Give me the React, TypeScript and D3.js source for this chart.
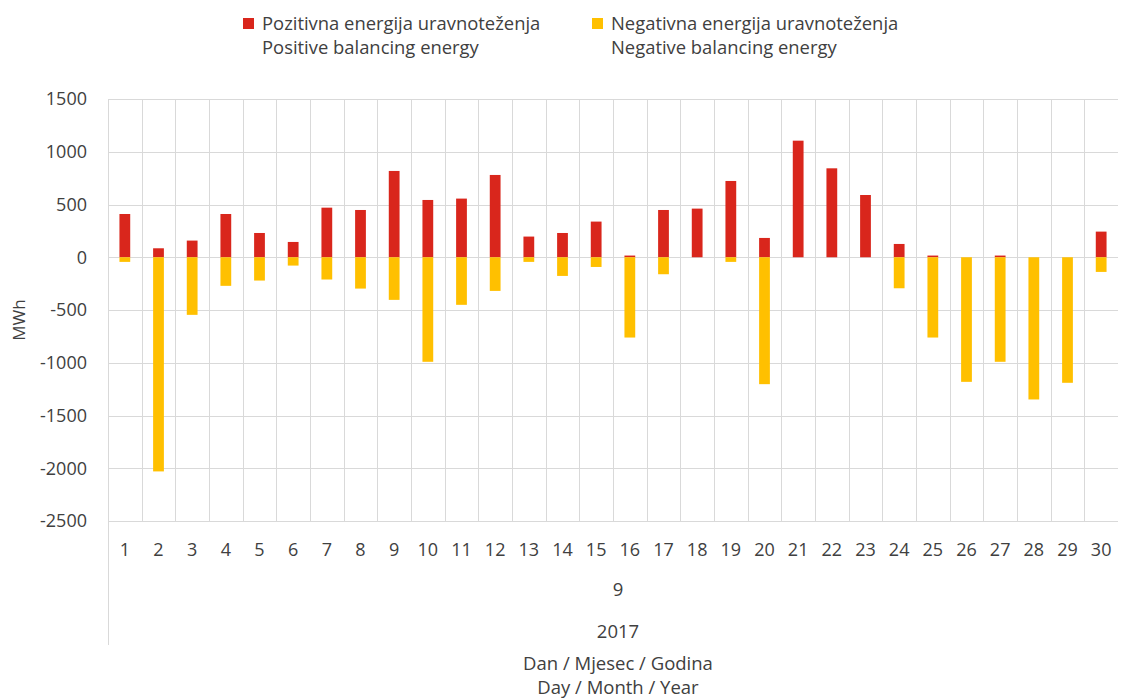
import { useRef, useEffect } from 'react';
import * as d3 from 'd3';

// Days of September 2017
const days = d3.range(1, 31).map(String);

// Pozitivna energija uravnoteženja (MWh)
const positive = [
  410, 85, 158, 410, 230, 145, 470, 448, 818, 543,
  556, 780, 196, 230, 338, 16, 448, 461, 723, 183,
  1105, 843, 590, 126, 16, 0, 16, 0, 0, 243,
];

// Negativna energija uravnoteženja (MWh)
const negative = [
  -44, -2030, -546, -271, -221, -79, -211, -297, -404, -991,
  -451, -319, -44, -177, -92, -761, -161, 0, -44, -1203,
  0, 0, 0, -294, -761, -1181, -991, -1348, -1190, -139,
];

const yTicks = [1500, 1000, 500, 0, -500, -1000, -1500, -2000, -2500];

const series = [
  { name: ['Pozitivna energija uravnoteženja', 'Positive balancing energy'], values: positive, color: '#D9261C' },
  { name: ['Negativna energija uravnoteženja', 'Negative balancing energy'], values: negative, color: '#FFC000' },
];

const FONT = '"Open Sans", Lato, sans-serif';
const TEXT = '#404040';

export default function App() {
  const svgRef = useRef<SVGSVGElement>(null);

  useEffect(() => {
    if (!svgRef.current) return;
    const svg = d3.select(svgRef.current);
    svg.selectAll('*').remove();

    const width = 1121;
    const height = 698;
    const margin = { top: 99, right: 3, bottom: 177, left: 108 };

    const x = d3.scaleBand()
      .domain(days)
      .range([margin.left, width - margin.right])
      .padding(0);

    const y = d3.scaleLinear()
      .domain([-2500, 1500])
      .range([height - margin.bottom, margin.top]);

    // Horizontal gridlines
    svg.append('g')
      .selectAll('line')
      .data(yTicks)
      .join('line')
      .attr('x1', margin.left)
      .attr('x2', width - margin.right)
      .attr('y1', d => Math.round(y(d)) + 0.5)
      .attr('y2', d => Math.round(y(d)) + 0.5)
      .attr('stroke', '#D9D9D9')
      .attr('stroke-width', 1);

    // Vertical gridlines between categories
    svg.append('g')
      .selectAll('line')
      .data(days)
      .join('line')
      .attr('x1', d => Math.round(x(d)!) + 0.5)
      .attr('x2', d => Math.round(x(d)!) + 0.5)
      .attr('y1', margin.top)
      .attr('y2', d => d === '1' ? 645 : y(-2500))
      .attr('stroke', '#D9D9D9')
      .attr('stroke-width', 1);

    // Bars (100% overlap)
    const bw = x.bandwidth() * 0.32;
    series.forEach(s => {
      svg.append('g')
        .selectAll('rect')
        .data(s.values.map((v, i) => ({ day: days[i], v })))
        .join('rect')
        .attr('x', d => x(d.day)! + (x.bandwidth() - bw) / 2)
        .attr('width', bw)
        .attr('y', d => Math.min(y(d.v), y(0)))
        .attr('height', d => Math.abs(y(d.v) - y(0)))
        .attr('fill', s.color);
    });

    // Y tick labels
    svg.append('g')
      .selectAll('text')
      .data(yTicks)
      .join('text')
      .attr('x', 87)
      .attr('y', d => y(d))
      .attr('dy', '0.35em')
      .attr('text-anchor', 'end')
      .attr('font-size', 18)
      .attr('font-family', FONT)
      .attr('fill', TEXT)
      .text(d => d);

    // Y title
    svg.append('text')
      .attr('transform', `translate(25,${(margin.top + height - margin.bottom) / 2 + 10}) rotate(-90)`)
      .attr('text-anchor', 'middle')
      .attr('font-size', 17)
      .attr('font-family', FONT)
      .attr('fill', TEXT)
      .text('MWh');

    // X tick labels (day)
    svg.append('g')
      .selectAll('text')
      .data(days)
      .join('text')
      .attr('x', d => x(d)! + x.bandwidth() / 2)
      .attr('y', 556)
      .attr('text-anchor', 'middle')
      .attr('font-size', 18)
      .attr('font-family', FONT)
      .attr('fill', TEXT)
      .text(d => d);

    const cx = (margin.left + width - margin.right) / 2 + 5;
    const lower = [
      { t: '9', y: 596 },
      { t: '2017', y: 638 },
      { t: 'Dan / Mjesec / Godina', y: 670 },
      { t: 'Day / Month / Year', y: 694 },
    ];
    svg.append('g')
      .selectAll('text')
      .data(lower)
      .join('text')
      .attr('x', cx)
      .attr('y', d => d.y)
      .attr('text-anchor', 'middle')
      .attr('font-size', 18.5)
      .attr('font-family', FONT)
      .attr('fill', TEXT)
      .text(d => d.t);

    // Legend
    const legendX = [243, 592];
    series.forEach((s, i) => {
      const g = svg.append('g').attr('transform', `translate(${legendX[i]},0)`);
      g.append('rect')
        .attr('x', 0)
        .attr('y', 18)
        .attr('width', 11)
        .attr('height', 11)
        .attr('fill', s.color);
      s.name.forEach((line, j) => {
        g.append('text')
          .attr('x', 19)
          .attr('y', 30 + j * 24)
          .attr('font-size', 18.4)
          .attr('font-family', FONT)
          .attr('fill', TEXT)
          .text(line);
      });
    });
  }, []);

  return (
    <svg
      ref={svgRef}
      width={1121}
      height={698}
      style={{ display: 'block', position: 'absolute', left: 0, top: 0, background: '#fff' }}
    />
  );
}
